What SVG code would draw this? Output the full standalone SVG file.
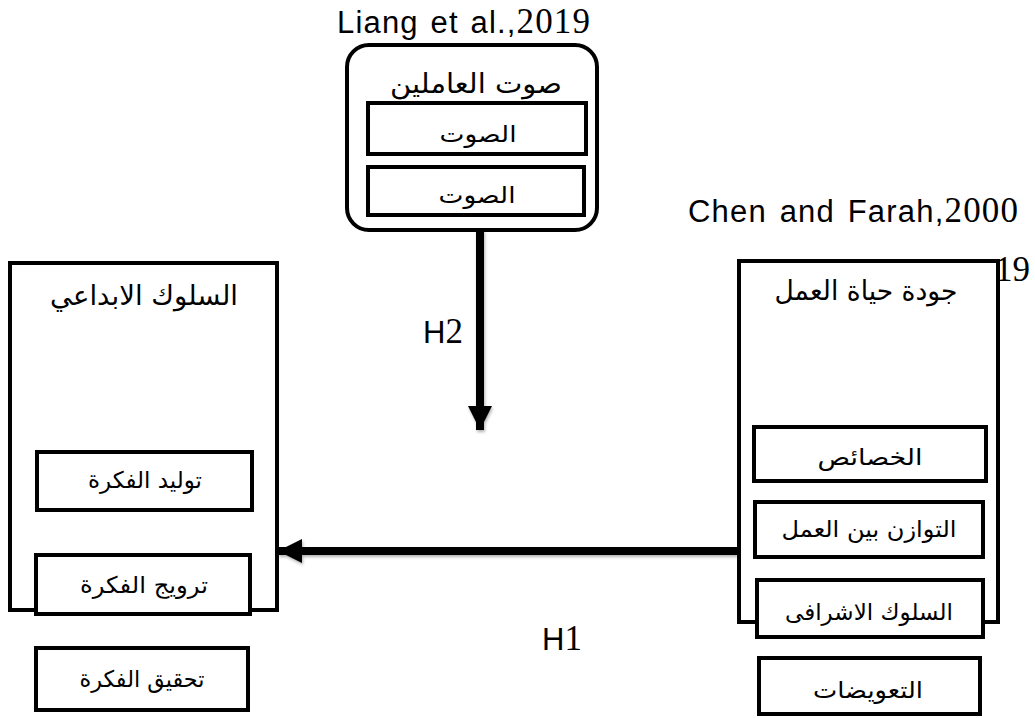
<svg xmlns="http://www.w3.org/2000/svg" width="1035" height="718" viewBox="0 0 1035 718">
<style>
.box{fill:#fff;stroke:#000;stroke-width:4}
.ar{font-family:"DejaVu Sans","Liberation Sans",sans-serif;fill:#000;text-anchor:middle;direction:rtl}
.t{font-size:27px}
.i{font-size:23px}
.lat{font-family:"Liberation Sans",Arial,sans-serif;fill:#000;font-size:31px}
.num{font-family:"Liberation Serif","Times New Roman",serif;font-size:35px}
</style>
<defs>
<marker id="ah" viewBox="0 0 10 10" refX="10" refY="5" markerWidth="3" markerHeight="3" orient="auto" markerUnits="strokeWidth">
<path d="M0,0 L10,5 L0,10 Z" fill="#000"/>
</marker>
<filter id="sh" x="-5%" y="-5%" width="110%" height="110%">
<feDropShadow dx="1" dy="2" stdDeviation="1.5" flood-color="#000" flood-opacity="0.3"/>
</filter>
</defs>
<rect width="1035" height="718" fill="#fff"/>

<g id="ref-liang"><text class="lat" x="337" y="33" word-spacing="2" textLength="253" lengthAdjust="spacing">Liang et al.,<tspan class="num">2019</tspan></text></g>
<g id="ref-chen"><text class="lat" x="688" y="222" word-spacing="3" textLength="330" lengthAdjust="spacing">Chen and Farah,<tspan class="num">2000</tspan></text>
<text class="num" x="995" y="281" font-size="32">19</text></g>

<g id="connectors">
<g filter="url(#sh)">
<line x1="480" y1="230" x2="480" y2="430" stroke="#000" stroke-width="8" marker-end="url(#ah)"/>
<line x1="737" y1="551" x2="278" y2="551" stroke="#000" stroke-width="8" marker-end="url(#ah)"/>
</g>
<text class="lat" x="423" y="343" font-size="30">H<tspan class="num" font-size="32">2</tspan></text>
<text class="lat" x="542" y="650" font-size="30">H<tspan class="num" font-size="32">1</tspan></text>
</g>

<g id="voice">
<rect class="box" x="347" y="45" width="250" height="185" rx="22"/>
<text class="ar t" x="476" y="93" textLength="172" lengthAdjust="spacingAndGlyphs">صوت العاملين</text>
<rect class="box" x="368" y="103" width="218" height="51"/>
<text class="ar i" x="478" y="142" textLength="77" lengthAdjust="spacingAndGlyphs">الصوت</text>
<rect class="box" x="368" y="167" width="216" height="48"/>
<text class="ar i" x="477" y="203" textLength="77" lengthAdjust="spacingAndGlyphs">الصوت</text>
</g>

<g id="creative">
<rect class="box" x="10" y="263" width="267" height="347"/>
<text class="ar t" x="144" y="305" textLength="188" lengthAdjust="spacingAndGlyphs">السلوك الابداعي</text>
<rect class="box" x="37" y="452" width="215" height="58"/>
<text class="ar i" x="145" y="488" textLength="114" lengthAdjust="spacingAndGlyphs">توليد الفكرة</text>
<rect class="box" x="36" y="555" width="214" height="59"/>
<text class="ar i" x="144" y="593" textLength="128" lengthAdjust="spacingAndGlyphs">ترويج الفكرة</text>
<rect class="box" x="36" y="648" width="212" height="62"/>
<text class="ar i" x="142" y="687" textLength="125" lengthAdjust="spacingAndGlyphs">تحقيق الفكرة</text>
</g>

<g id="qwl">
<rect class="box" x="739" y="261" width="259" height="361"/>
<text class="ar t" x="866" y="300" textLength="183" lengthAdjust="spacingAndGlyphs">جودة حياة العمل</text>
<rect class="box" x="754" y="427" width="232" height="54"/>
<text class="ar i" x="870" y="465" textLength="105" lengthAdjust="spacingAndGlyphs">الخصائص</text>
<rect class="box" x="755" y="502" width="228" height="55"/>
<text class="ar i" x="869" y="537" textLength="175" lengthAdjust="spacingAndGlyphs">التوازن بين العمل</text>
<rect class="box" x="757" y="580" width="226" height="57"/>
<text class="ar i" x="869" y="620" textLength="168" lengthAdjust="spacingAndGlyphs">السلوك الاشرافى</text>
<rect class="box" x="759" y="658" width="221" height="56"/>
<text class="ar i" x="868" y="698" textLength="110" lengthAdjust="spacingAndGlyphs">التعويضات</text>
</g>
</svg>
